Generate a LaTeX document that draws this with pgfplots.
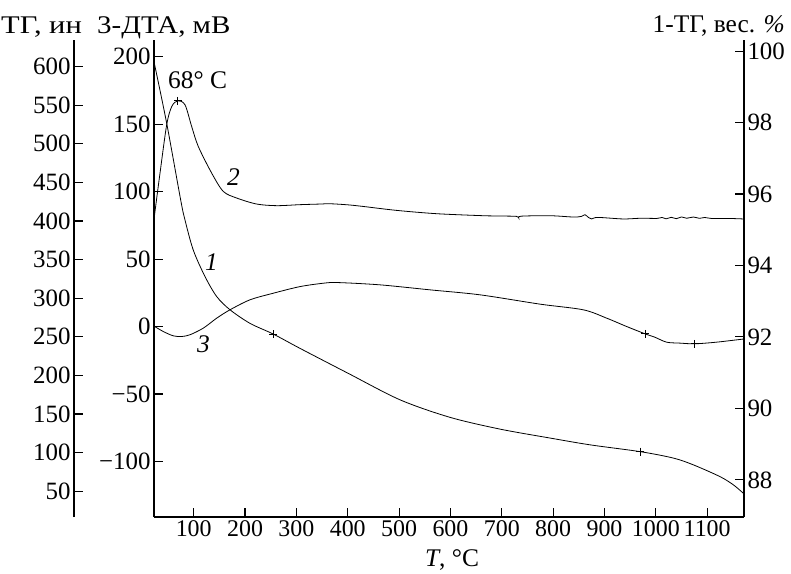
\documentclass[border=0pt]{standalone}
\usepackage{fontspec}
\setmainfont{Liberation Serif}
\usepackage{pgfplots}
\pgfplotsset{compat=1.18}

% shared look of the three stacked axes
\pgfplotsset{
  thermo/.style={
    scale only axis, height=477bp, anchor=south west,
    axis line style={line width=1.1bp, black},
    tick style={line width=1.1bp, black}, major tick length=9bp,
    xticklabel style={font=\fontsize{24}{28}\selectfont},
    yticklabel style={font=\fontsize{25}{29}\selectfont},
    clip=false,
  },
  curve/.style={black, line width=0.8bp, smooth, mark=none},
  cross/.style={black, only marks, mark=+, mark size=4bp, mark options={line width=0.8bp}},
}

\begin{document}
\begin{tikzpicture}[font=\fontsize{25.5}{30}\selectfont]
\useasboundingbox (0,0) rectangle (791bp,-574bp);

% outer left scale: ТГ, ин (curve 2)
\begin{axis}[thermo, at={(74bp,-517bp)}, width=670bp,
  xmin=-133.1, xmax=1171.7, ymin=16.6, ymax=634.5,
  axis x line=none, axis y line*=left,
  ytick={50,100,...,600},
  yticklabels={50,100,150,200,250,300,350,400,450,500,550,600}]
\addplot[curve] coordinates {
  (23,404) (34.4,462.1) (47.4,524.6) (57.2,548.3) (69,555.8) (83.1,550.5)
  (96.1,522.4) (109,496.5) (135,462.1) (157.6,438.4) (183.7,429.8) (222.7,422.0)
  (261.6,419.9) (307,421.2) (346,422.0) (365,422.4) (400,421.0) (430,418.9)
  (495,413.8) (573,409.5) (664,406.9) (700,406.5) (729,406.0) (733,403.9) (738,406.3)
  (794,406.9) (839,405.2) (855,406.0) (862,408.2) (869,404.5) (875,402.7) (887,404.7)
  (936,402.7) (970,403.6) (1002,403.4) (1012,404.6) (1020,402.9) (1030,404.8)
  (1040,403.1) (1050,405.3) (1060,403.6) (1073,405.2) (1085,403.5) (1095,404.6)
  (1110,403.2) (1140,403.4) (1170,402.7)};
\addplot[cross] coordinates {(69,555.8)};
\end{axis}

% inner left scale: 3-ДТА, мВ (curve 3) and the temperature axis
\begin{axis}[thermo, at={(154bp,-517bp)}, width=590bp,
  xmin=22.7, xmax=1171.7, ymin=-141.2, ymax=212.4,
  axis x line*=bottom, axis y line*=left,
  xtick={100,200,...,1100},
  xticklabels={100,200,300,400,500,600,700,800,900,1000,1100},
  ytick={-100,-50,...,200},
  yticklabels={−100,−50,0,50,100,150,200}]
\addplot[curve] coordinates {
  (22.7,0.3) (40.8,-3.7) (60.3,-6.9) (76.6,-7.4) (92.8,-6.1) (118.7,-1.2)
  (144.8,6.2) (170.7,12.4) (209.6,19.8) (255,24.7) (307,29.6) (352.4,32.1)
  (380,32.6) (462.8,30.9) (560,27.2) (657.6,23.5) (774.4,16.6) (858.7,12.4)
  (904.3,6.2) (943.2,0) (979,-5.4) (998,-7.9) (1021,-11.6) (1047,-12.3)
  (1076,-12.8) (1118,-11.6) (1170,-9.3)};
\addplot[cross] coordinates {(979,-5.4) (1076,-12.8)};
\end{axis}

% right scale: 1-ТГ, вес. % (curve 1)
\begin{axis}[thermo, at={(154bp,-517bp)}, width=590bp,
  xmin=22.7, xmax=1171.7, ymin=86.96, ymax=100.31,
  axis x line=none, axis y line*=right,
  ytick={88,90,...,100},
  yticklabels={88,90,92,94,96,98,100}]
\addplot[curve] coordinates {
  (23,99.68) (47.4,97.98) (74.7,95.83) (83.1,95.27) (99.2,94.43) (122,93.69)
  (144.8,93.13) (170.7,92.76) (209.6,92.38) (255,92.08) (307,91.68) (401,90.98)
  (501.8,90.24) (599,89.75) (696.5,89.42) (793.9,89.17) (871.8,88.98) (969.2,88.79)
  (1034,88.61) (1073,88.42) (1125,88.09) (1151,87.86) (1170,87.63)};
\addplot[cross] coordinates {(255,92.08) (969.2,88.79)};
\end{axis}

% titles and curve numbers
\node[anchor=base west, inner sep=0] at (1bp,-33bp) {\scalebox{1.2}[1]{ТГ, ин}};
\node[anchor=base west, inner sep=0] at (97bp,-33bp) {\scalebox{1.14}[1]{3-ДТА, мВ}};
\node[anchor=base east, inner sep=0] at (785bp,-32bp) {1-ТГ, вес. \textit{\%}};
\node[anchor=base west, inner sep=0] at (168bp,-88bp) {68° C};
\node[anchor=base west, inner sep=0] at (227bp,-185bp) {\textit{2}};
\node[anchor=base west, inner sep=0] at (205bp,-270bp) {\textit{1}};
\node[anchor=base west, inner sep=0] at (197bp,-352bp) {\textit{3}};
\node[anchor=base, inner sep=0] at (452bp,-566bp) {\textit{T}, °C};
\end{tikzpicture}
\end{document}
